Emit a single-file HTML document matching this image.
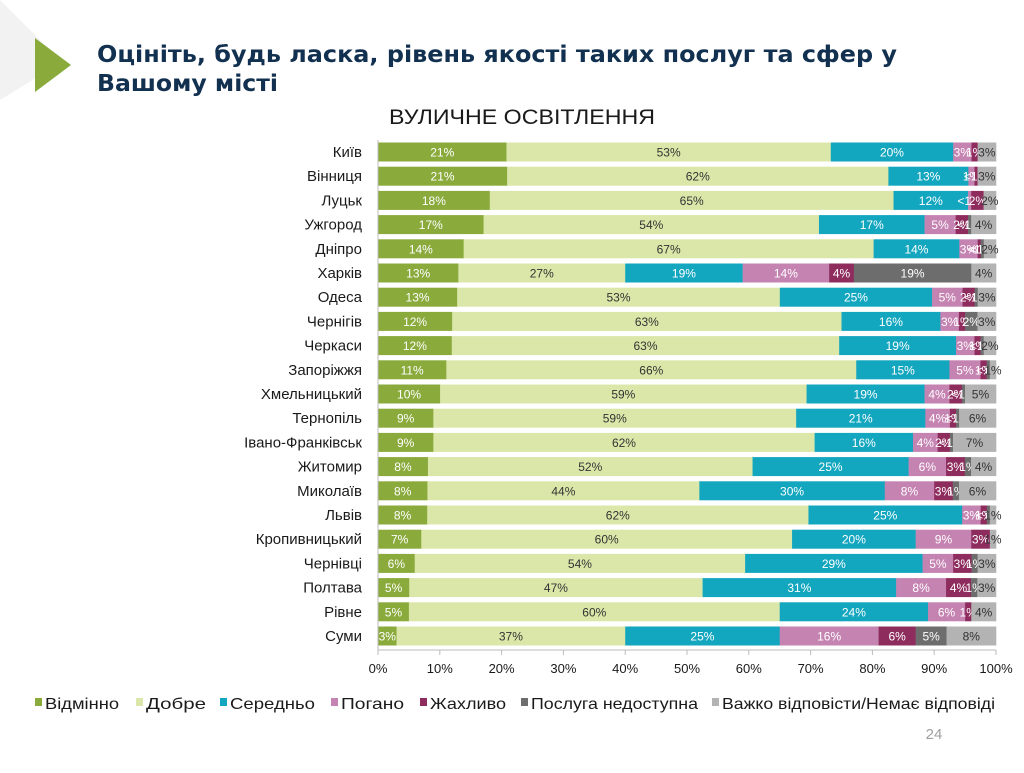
<!DOCTYPE html>
<html><head><meta charset="utf-8"><style>
body{margin:0;background:#fff;width:1024px;height:768px;overflow:hidden;font-family:"Liberation Sans","DejaVu Sans",sans-serif}
svg text{font-family:"Liberation Sans",sans-serif}
</style></head><body>
<svg id="s" width="1024" height="768" xmlns="http://www.w3.org/2000/svg">
<polygon points="0,0 0,100 62,62" fill="#f2f2f2"/>
<polygon points="35,38 35,92 71,65" fill="#8aaa3c"/>
<text x="97" y="62" font-weight="bold" font-size="23" fill="#12304f" textLength="800" lengthAdjust="spacingAndGlyphs" style="font-family:'DejaVu Sans',sans-serif">Оцініть, будь ласка, рівень якості таких послуг та сфер у</text>
<text x="97" y="91" font-weight="bold" font-size="23" fill="#12304f" textLength="181" lengthAdjust="spacingAndGlyphs" style="font-family:'DejaVu Sans',sans-serif">Вашому місті</text>
<text x="389" y="124" font-size="21" fill="#1a1a1a" textLength="266" lengthAdjust="spacingAndGlyphs">ВУЛИЧНЕ ОСВІТЛЕННЯ</text>
<text x="934" y="739" font-size="15" fill="#a0a0a0" text-anchor="middle">24</text>
<g id="g"></g>
</svg>
<script>
var C=["#8aaa3c","#dbe7a9","#12a6bf","#c583b2","#8e2c5e","#6d6d6d","#b3b3b3"];
var T=["#fff","#333","#fff","#fff","#fff","#fff","#333"];
var D=[["Київ",[21,53,20,3,1,0,3]],["Вінниця",[21,62,13,1,"<1",0,3]],["Луцьк",[18,65,12,"<1",2,0,2]],["Ужгород",[17,54,17,5,2,"<1",4]],["Дніпро",[14,67,14,3,"<1","<1",2]],["Харків",[13,27,19,14,4,19,4]],["Одеса",[13,53,25,5,2,"<1",3]],["Чернігів",[12,63,16,3,1,2,3]],["Черкаси",[12,63,19,3,1,"<1",2]],["Запоріжжя",[11,66,15,5,1,"<1",1]],["Хмельницький",[10,59,19,4,2,"<1",5]],["Тернопіль",[9,59,21,4,1,"<1",6]],["Івано-Франківськ",[9,62,16,4,2,"<1",7]],["Житомир",[8,52,25,6,3,1,4]],["Миколаїв",[8,44,30,8,3,1,6]],["Львів",[8,62,25,3,1,"<1",1]],["Кропивницький",[7,60,20,9,3,0,1]],["Чернівці",[6,54,29,5,3,1,3]],["Полтава",[5,47,31,8,4,1,3]],["Рівне",[5,60,24,6,1,0,4]],["Суми",[3,37,25,16,6,5,8]]];
var x0=378,W=618,h="";
D.forEach(function(r,i){var y=152+i*24.2;var v=r[1].map(function(a){return a==="<1"?0.5:a});var s=v.reduce(function(a,b){return a+b},0);var x=x0;
h+='<text x="362" y="'+(y+5)+'" font-size="15" fill="#1a1a1a" text-anchor="end">'+r[0]+'</text>';
v.forEach(function(a,k){if(!a)return;var w=a/s*W;h+='<rect x="'+x+'" y="'+(y-9.5)+'" width="'+(w+0.3)+'" height="19" fill="'+C[k]+'"/>';
h+='<text x="'+(x+w/2)+'" y="'+(y+4.5)+'" font-size="12" fill="'+T[k]+'" text-anchor="middle">'+r[1][k]+'%</text>';x+=w;});});
h+='<line x1="378" y1="140" x2="378" y2="650" stroke="#bbb"/><line x1="378" y1="650" x2="996" y2="650" stroke="#bbb"/>';
for(var t=0;t<=10;t++){var xx=x0+t*W/10;h+='<line x1="'+xx+'" y1="650" x2="'+xx+'" y2="655" stroke="#bbb"/><text x="'+xx+'" y="673" font-size="13" fill="#1a1a1a" text-anchor="middle">'+(t*10)+'%</text>';}
var L=["Відмінно","Добре","Середньо","Погано","Жахливо","Послуга недоступна","Важко відповісти/Немає відповіді"],lx=[35,136,220,331,420,521,712],lw=[74,60,85,63,76,167,273];
L.forEach(function(n,k){h+='<rect x="'+lx[k]+'" y="698" width="7" height="8" fill="'+C[k]+'"/><text x="'+(lx[k]+10)+'" y="709" font-size="16" fill="#1a1a1a" textLength="'+lw[k]+'" lengthAdjust="spacingAndGlyphs">'+n+'</text>';});
document.getElementById("g").innerHTML=h;
</script>
</body></html>
